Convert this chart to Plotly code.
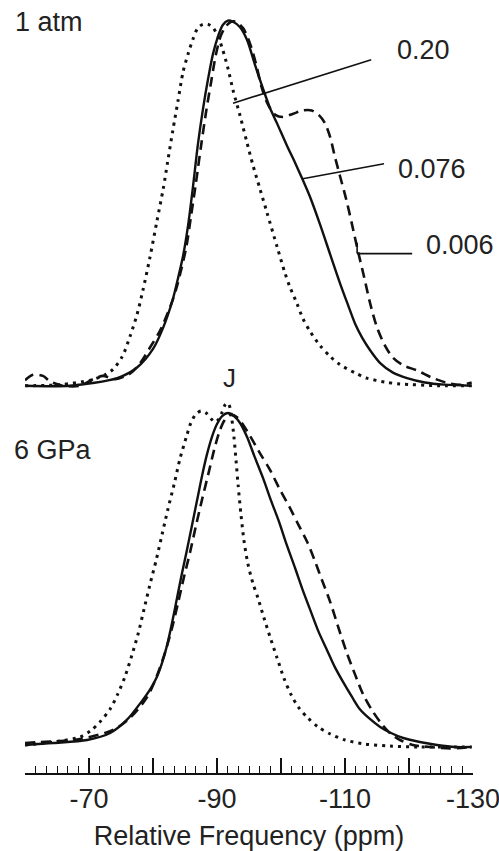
import plotly.graph_objects as go

# 19F NMR line shapes: chemical shift (ppm) vs normalised intensity
# ---- 1 atm ----
atm_dotted_ppm = [-60.0, -65.5, -70.2, -72.5, -73.75, -75.2, -76.4, -77.5, -78.4, -79.5, -80.6,
                  -81.6, -82.3, -83.1, -83.9, -84.7, -85.5, -86.25, -87.0, -87.8, -88.6, -89.4,
                  -90.2, -90.9, -91.7, -92.5, -93.6, -94.7, -95.6, -96.7, -97.8, -99.4, -100.6,
                  -101.4, -102.5, -103.4, -104.5, -106.1, -107.7, -109.2, -111.6, -113.4,
                  -116.25, -118.6, -124.8, -129.8]
atm_dotted_int = [0.0, 0.003, 0.015, 0.03, 0.045, 0.08, 0.135, 0.195, 0.26, 0.35, 0.45,
                  0.54, 0.615, 0.70, 0.78, 0.86, 0.91, 0.95, 0.98, 0.99, 0.99, 0.98,
                  0.955, 0.92, 0.87, 0.81, 0.74, 0.665, 0.605, 0.54, 0.475, 0.38, 0.31,
                  0.27, 0.225, 0.185, 0.15, 0.11, 0.08, 0.058, 0.035, 0.021,
                  0.01, 0.005, 0.0, 0.0]

atm_solid_ppm = [-60.0, -67.0, -74.4, -77.5, -80.0, -81.6, -83.1, -83.9, -84.7, -85.5, -86.25,
                 -87.0, -87.8, -88.6, -89.4, -90.2, -90.9, -91.7, -92.5, -93.6, -94.7, -95.9,
                 -97.2, -98.3, -99.4, -100.9, -102.2, -103.4, -104.5, -106.1, -107.7, -109.2,
                 -110.5, -111.6, -112.7, -113.9, -115.5, -117.5, -119.7, -122.5, -125.6, -129.8]
atm_solid_int = [0.0, 0.0, 0.021, 0.050, 0.101, 0.160, 0.237, 0.294, 0.356, 0.442, 0.546,
                 0.659, 0.757, 0.840, 0.911, 0.959, 0.988, 1.0, 0.997, 0.982, 0.947, 0.881,
                 0.813, 0.760, 0.718, 0.659, 0.611, 0.564, 0.519, 0.442, 0.359, 0.282,
                 0.220, 0.169, 0.131, 0.098, 0.062, 0.036, 0.021, 0.009, 0.003, 0.0]

atm_dashed_ppm = [-60.0, -61.25, -62.8, -63.9, -65.9, -68.6, -70.6, -72.2, -74.1, -76.4, -78.0,
                  -79.5, -81.1, -82.7, -83.6, -84.4, -85.2, -85.9, -86.7, -87.5, -88.3, -89.1,
                  -89.8, -90.6, -91.4, -92.2, -93.0, -94.1, -95.2, -96.1, -97.0, -98.0, -99.1,
                  -100.3, -101.9, -103.4, -104.8, -105.9, -106.9, -107.7, -108.4, -109.2,
                  -110.2, -111.1, -112.0, -113.0, -113.9, -115.0, -116.25, -117.5, -119.1,
                  -121.25, -123.75, -126.4, -128.3, -129.8]
atm_dashed_int = [0.015, 0.030, 0.027, 0.012, 0.0, 0.0, 0.018, 0.027, 0.018, 0.033, 0.062,
                  0.104, 0.151, 0.217, 0.264, 0.318, 0.380, 0.460, 0.555, 0.656, 0.751, 0.834,
                  0.905, 0.959, 0.985, 0.997, 0.997, 0.979, 0.935, 0.881, 0.816, 0.769, 0.742,
                  0.736, 0.745, 0.754, 0.754, 0.742, 0.718, 0.680, 0.629, 0.576,
                  0.510, 0.442, 0.371, 0.297, 0.228, 0.160, 0.110, 0.077, 0.056,
                  0.042, 0.021, 0.006, 0.003, 0.009]

# ---- 6 GPa ----
gpa_dotted_ppm = [-60.0, -64.4, -68.6, -70.2, -71.7, -73.3, -74.5, -75.6, -76.7, -77.7, -78.6,
                  -79.5, -80.5, -81.4, -82.3, -83.3, -84.2, -85.2, -85.9, -86.7, -87.5, -88.3,
                  -89.1, -89.7, -90.3, -90.8, -91.25, -91.7, -92.0, -92.3, -92.65, -92.97,
                  -93.3, -93.75, -94.2, -94.8, -95.6, -96.4, -97.3, -98.3, -99.4, -100.5,
                  -101.6, -102.8, -104.2, -105.8, -107.7, -110.0, -113.1, -117.0, -121.7, -129.8]
gpa_dotted_int = [0.006, 0.015, 0.030, 0.048, 0.075, 0.114, 0.159, 0.210, 0.275, 0.341, 0.413,
                  0.485, 0.560, 0.635, 0.710, 0.787, 0.862, 0.928, 0.970, 0.997, 1.006, 1.000,
                  0.982, 0.973, 0.982, 1.003, 1.024, 1.030, 1.018, 0.985, 0.928, 0.859,
                  0.784, 0.695, 0.620, 0.551, 0.491, 0.446, 0.389, 0.329, 0.266, 0.204,
                  0.156, 0.117, 0.087, 0.060, 0.039, 0.021, 0.009, 0.003, 0.0, 0.0]

gpa_solid_ppm = [-60.0, -64.4, -69.7, -73.3, -75.9, -78.4, -79.5, -80.6, -81.4, -82.2, -83.0,
                 -83.75, -84.5, -85.3, -86.1, -86.9, -87.65, -88.4, -89.2, -90.0, -90.8, -91.7,
                 -92.65, -93.6, -94.7, -95.9, -97.2, -98.4, -99.7, -100.9, -102.2, -103.4,
                 -104.7, -105.9, -107.2, -108.4, -109.7, -111.1, -112.3, -113.9, -115.5,
                 -117.2, -119.1, -121.7, -124.4, -127.2, -129.8]
gpa_solid_int = [0.006, 0.012, 0.021, 0.042, 0.081, 0.141, 0.171, 0.210, 0.251, 0.305, 0.374,
                 0.446, 0.518, 0.590, 0.665, 0.740, 0.811, 0.874, 0.928, 0.967, 0.991, 1.0,
                 0.991, 0.970, 0.928, 0.868, 0.805, 0.740, 0.674, 0.605, 0.536, 0.470,
                 0.404, 0.344, 0.290, 0.240, 0.195, 0.150, 0.114, 0.084, 0.060,
                 0.042, 0.027, 0.015, 0.006, 0.0, 0.0]

gpa_dashed_ppm = [-60.0, -62.3, -65.5, -68.6, -73.75, -76.4, -79.1, -80.6, -81.9, -83.0, -83.9,
                  -84.8, -85.8, -86.7, -87.65, -88.6, -89.5, -90.3, -91.1, -92.0, -93.1, -94.7,
                  -96.7, -98.3, -99.8, -101.4, -102.65, -104.1, -105.3, -106.4, -107.7, -108.9,
                  -110.3, -111.6, -112.8, -114.1, -115.5, -117.0, -118.6, -120.6, -123.3,
                  -126.4, -129.8]
gpa_dashed_int = [0.012, 0.015, 0.018, 0.024, 0.051, 0.087, 0.150, 0.213, 0.284, 0.359, 0.431,
                  0.506, 0.584, 0.662, 0.740, 0.814, 0.886, 0.940, 0.976, 0.994, 0.988, 0.946,
                  0.880, 0.829, 0.772, 0.716, 0.668, 0.614, 0.557, 0.500, 0.434, 0.362,
                  0.281, 0.216, 0.159, 0.114, 0.075, 0.042, 0.021, 0.006, 0.0,
                  -0.004, 0.0]

# axis ticks
major_ticks = [-60, -70, -80, -90, -100, -110, -120, -130]
major_labels = ["", "-70", "", "-90", "", "-110", "", "-130"]

INK = "#111111"
TXT = "#222222"
FONT = "Liberation Sans, Arial, Helvetica, sans-serif"
FS = 27

styles = {
    "solid": dict(color=INK, width=2.4),
    "dashed": dict(color=INK, width=2.6, dash="10px,6px"),
    "dotted": dict(color=INK, width=3.0, dash="3px,5px"),
}

fig = go.Figure()

def add(xs, ys, style, yaxis):
    fig.add_trace(go.Scatter(x=xs, y=ys, mode="lines", yaxis=yaxis,
                             line=dict(shape="spline", smoothing=0.8, **styles[style]),
                             hoverinfo="skip", showlegend=False))

add(atm_dotted_ppm, atm_dotted_int, "dotted", "y2")
add(atm_dashed_ppm, atm_dashed_int, "dashed", "y2")
add(atm_solid_ppm, atm_solid_int, "solid", "y2")
add(gpa_dotted_ppm, gpa_dotted_int, "dotted", "y")
add(gpa_dashed_ppm, gpa_dashed_int, "dashed", "y")
add(gpa_solid_ppm, gpa_solid_int, "solid", "y")

# leader lines for the fraction labels (upper panel)
leaders = [
    ((-92.5, 0.774), (-114.1, 0.893)),
    ((-103.4, 0.567), (-116.1, 0.608)),
    ((-111.9, 0.392), (-111.9, 0.362)),
    ((-111.9, 0.362), (-120.5, 0.362)),
]
for (x0, y0), (x1, y1) in leaders:
    fig.add_shape(type="line", xref="x", yref="y2", x0=x0, y0=y0, x1=x1, y1=y1,
                  line=dict(color=INK, width=1.6))

labels = [("0.20", -122.3, 0.92), ("0.076", -123.6, 0.593), ("0.006", -128.0, 0.386)]
for txt, x, y in labels:
    fig.add_annotation(text=txt, x=x, y=y, xref="x", yref="y2", showarrow=False,
                       font=dict(family=FONT, size=FS, color=TXT))

fig.add_annotation(text="1 atm", x=-0.027, y=0.9715, xref="paper", yref="paper",
                   xanchor="left", yanchor="middle", showarrow=False,
                   font=dict(family=FONT, size=FS, color=TXT))
fig.add_annotation(text="6 GPa", x=-0.029, y=0.418, xref="paper", yref="paper",
                   xanchor="left", yanchor="middle", showarrow=False,
                   font=dict(family=FONT, size=FS, color=TXT))
fig.add_annotation(text="J", x=-91.9, y=0.511, xref="x", yref="paper",
                   xanchor="center", yanchor="middle", showarrow=False,
                   font=dict(family=FONT, size=FS - 1, color=TXT))

fig.update_layout(
    width=499, height=851,
    margin=dict(l=25, r=26, t=0, b=78),
    paper_bgcolor="white", plot_bgcolor="white",
    font=dict(family=FONT, size=FS, color=TXT),
    xaxis=dict(
        range=[-59.99, -130.01], tickmode="array", tickvals=major_ticks, ticktext=major_labels,
        ticks="inside", ticklen=15, tickwidth=1.7, tickcolor=INK,
        showline=True, linecolor=INK, linewidth=2.4, showgrid=False, zeroline=False,
        minor=dict(tickmode="linear", tick0=-60, dtick=10 / 6, ticks="inside",
                   ticklen=7, tickwidth=1.4, tickcolor=INK, showgrid=False),
        tickfont=dict(family=FONT, size=FS, color=TXT),
        ticklabeloverflow="allow",
        title=dict(text="Relative Frequency (ppm)", standoff=15,
                   font=dict(family=FONT, size=FS, color=TXT)),
        automargin=False,
    ),
    yaxis=dict(domain=[0, 0.5], range=[-0.0778, 1.0794], visible=False),
    yaxis2=dict(domain=[0.48, 1], range=[-0.0444, 1.0566], visible=False),
)

fig.write_html("out.html")
